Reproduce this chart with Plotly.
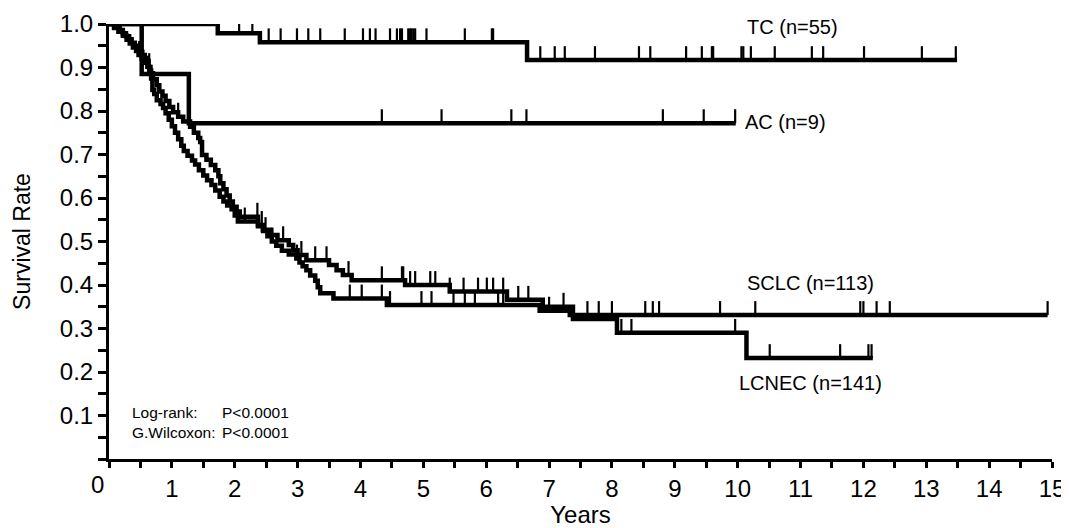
import plotly.graph_objects as go

# ---------------- data ----------------
# TC (n=55)
tc_time = [0.0, 1.73, 2.40, 6.65]
tc_surv = [1.0, 0.979, 0.958, 0.917]
tc_end = 13.49
tc_censor = [1.57, 2.07, 2.28, 2.54, 2.73, 2.99, 3.17, 3.36, 3.75, 4.04, 4.15, 4.24,
             4.47, 4.58, 4.63, 4.66, 4.76, 4.79, 4.81, 4.84, 4.87, 5.05, 5.66, 6.09,
             6.11, 6.86, 7.09, 7.25, 7.73, 8.43, 8.61, 9.18, 9.43, 9.59, 9.61, 10.06,
             10.09, 10.21, 10.59, 11.18, 11.36, 12.01, 12.93, 13.47]

# AC (n=9)
ac_time = [0.0, 0.52, 1.27]
ac_surv = [1.0, 0.885, 0.772]
ac_end = 9.97
ac_censor = [4.34, 5.29, 6.40, 6.64, 8.81, 9.46, 9.96]

# SCLC (n=113)
sclc_time = [0.0, 0.08, 0.15, 0.22, 0.28, 0.33, 0.38, 0.43, 0.47, 0.52, 0.57, 0.61,
             0.64, 0.67, 0.69, 0.72, 0.76, 0.82, 0.86, 0.90, 0.95, 1.00, 1.05, 1.10,
             1.15, 1.19, 1.25, 1.32, 1.37, 1.43, 1.50, 1.56, 1.63, 1.69, 1.76, 1.82,
             1.88, 1.95, 2.00, 2.05, 2.37, 2.45, 2.52, 2.59, 2.66, 2.75, 2.86, 2.98,
             3.03, 3.08, 3.14, 3.20, 3.28, 3.32, 3.36, 3.57, 4.42, 6.85, 7.33]
sclc_surv = [1.0, 0.991, 0.982, 0.973, 0.964, 0.955, 0.946, 0.938, 0.929, 0.920, 0.911, 0.902,
             0.893, 0.875, 0.848, 0.839, 0.825, 0.816, 0.807, 0.795, 0.780, 0.765, 0.750, 0.735,
             0.720, 0.708, 0.697, 0.686, 0.677, 0.664, 0.652, 0.641, 0.630, 0.617, 0.603, 0.592,
             0.583, 0.574, 0.560, 0.546, 0.535, 0.524, 0.512, 0.500, 0.490, 0.479, 0.470, 0.461,
             0.452, 0.443, 0.434, 0.422, 0.410, 0.395, 0.381, 0.369, 0.354, 0.341, 0.331]
sclc_end = 14.93
sclc_censor = [0.48, 2.16, 2.49, 2.60, 2.99, 3.83, 4.02, 4.34, 4.47, 4.97, 5.13, 5.48,
               5.66, 5.82, 6.19, 6.27, 7.00, 7.61, 7.79, 8.00, 8.53, 8.65, 8.75, 9.72,
               10.28, 11.95, 12.00, 12.21, 12.42, 14.93]

# LCNEC (n=141)
lcnec_time = [0.0, 0.10, 0.17, 0.22, 0.27, 0.32, 0.36, 0.41, 0.45, 0.49, 0.53, 0.57,
              0.60, 0.63, 0.66, 0.70, 0.76, 0.80, 0.85, 0.90, 0.96, 1.02, 1.10, 1.18,
              1.29, 1.35, 1.42, 1.45, 1.48, 1.55, 1.62, 1.69, 1.74, 1.77, 1.82, 1.87,
              1.92, 1.97, 2.03, 2.08, 2.37, 2.45, 2.56, 2.68, 2.86, 2.93, 3.00, 3.14,
              3.50, 3.62, 3.72, 3.86, 4.71, 5.42, 6.33, 6.90, 7.38, 8.08, 10.14]
lcnec_surv = [1.0, 0.993, 0.986, 0.979, 0.972, 0.965, 0.957, 0.950, 0.943, 0.936, 0.929, 0.922,
              0.915, 0.901, 0.887, 0.873, 0.859, 0.845, 0.835, 0.823, 0.809, 0.797, 0.787, 0.776,
              0.764, 0.750, 0.738, 0.729, 0.699, 0.688, 0.676, 0.664, 0.650, 0.634, 0.620, 0.606,
              0.592, 0.580, 0.569, 0.557, 0.538, 0.527, 0.515, 0.503, 0.492, 0.480, 0.469, 0.457,
              0.446, 0.434, 0.423, 0.411, 0.400, 0.385, 0.366, 0.350, 0.322, 0.290, 0.232]
lcnec_end = 12.15
lcnec_censor = [0.64, 1.10, 2.36, 2.43, 2.77, 3.06, 3.28, 3.46, 3.81, 4.34, 4.66, 4.68,
                4.79, 4.87, 5.11, 5.19, 5.42, 5.64, 5.87, 6.01, 6.11, 6.27, 6.51, 6.67,
                7.23, 8.15, 8.31, 9.96, 10.51, 11.63, 12.08, 12.13]

group_labels = ["TC (n=55)", "AC (n=9)", "SCLC (n=113)", "LCNEC (n=141)"]
label_pos_x = [10.12, 10.08, 10.12, 9.99]
label_pos_y = [0.993, 0.775, 0.405, 0.175]

stat_names = ["Log-rank:", "G.Wilcoxon:"]
stat_values = ["P&lt;0.0001", "P&lt;0.0001"]
stat_rows_y = [0.108, 0.060]

x_ticks = list(range(1, 16))
y_ticks = [0.1, 0.2, 0.3, 0.4, 0.5, 0.6, 0.7, 0.8, 0.9, 1.0]

# ---------------- styling ----------------
FONT = "Liberation Sans, Arial, sans-serif"
TICK_H = 0.032   # censor tick height in survival units

fig = go.Figure()


def surv_at(times, survs, t):
    s = survs[0]
    for tt, ss in zip(times, survs):
        if tt <= t:
            s = ss
    return s


groups = [
    (tc_time, tc_surv, tc_end, tc_censor),
    (ac_time, ac_surv, ac_end, ac_censor),
    (sclc_time, sclc_surv, sclc_end, sclc_censor),
    (lcnec_time, lcnec_surv, lcnec_end, lcnec_censor),
]

for (times, survs, end, cens), name in zip(groups, group_labels):
    fig.add_trace(go.Scatter(
        x=list(times) + [end], y=list(survs) + [survs[-1]],
        mode="lines", line=dict(color="black", width=4.5, shape="hv"),
        cliponaxis=False, name=name, showlegend=False, hoverinfo="skip"))
    cx, cy = [], []
    for c in cens:
        s = surv_at(times, survs, c)
        cx += [c, c, None]
        cy += [s, s + TICK_H, None]
    fig.add_trace(go.Scatter(
        x=cx, y=cy, mode="lines", line=dict(color="black", width=2.2),
        cliponaxis=False, showlegend=False, hoverinfo="skip"))

annotations = []
for txt, ax, ay in zip(group_labels, label_pos_x, label_pos_y):
    annotations.append(dict(x=ax, y=ay, xref="x", yref="y", text=txt, showarrow=False,
                            xanchor="left", yanchor="middle",
                            font=dict(family=FONT, size=20, color="black")))

# x tick label "0", placed left of the origin as in the reference
annotations.append(dict(x=0, y=-0.0575, xref="x", yref="paper", text="0", showarrow=False,
                        xanchor="center", yanchor="middle", xshift=-12,
                        font=dict(family=FONT, size=24, color="black")))

# statistics text
for lab, pv, yy in zip(stat_names, stat_values, stat_rows_y):
    annotations.append(dict(x=0.33, y=yy, xref="x", yref="y", text=lab, showarrow=False,
                            xanchor="left", yanchor="middle",
                            font=dict(family=FONT, size=15.5, color="black")))
    annotations.append(dict(x=1.76, y=yy, xref="x", yref="y", text=pv, showarrow=False,
                            xanchor="left", yanchor="middle",
                            font=dict(family=FONT, size=15.5, color="black")))

# the page body adds an 8 px margin, so the figure is sized to fit the window
fig.update_layout(
    width=1061, height=520,
    margin=dict(l=101, r=17, t=16, b=69),
    paper_bgcolor="white", plot_bgcolor="white",
    showlegend=False,
    annotations=annotations,
    font=dict(family=FONT, color="black"),
)

fig.update_xaxes(
    range=[0, 15], tickmode="array", tickvals=x_ticks,
    ticks="outside", ticklen=6, tickwidth=2.5, tickcolor="black",
    showline=True, linewidth=3, linecolor="black",
    showgrid=False, zeroline=False,
    minor=dict(dtick=0.5, tick0=0, ticks="outside", ticklen=6, tickwidth=2.5,
               tickcolor="black", showgrid=False),
    tickfont=dict(family=FONT, size=24, color="black"),
    title=dict(text="Years", font=dict(family=FONT, size=24, color="black"), standoff=10),
    automargin=False,
)

fig.update_yaxes(
    range=[0, 1.0], tickmode="array", tickvals=y_ticks,
    ticktext=[f"{v:.1f}" for v in y_ticks],
    ticks="outside", ticklen=8, tickwidth=2.5, tickcolor="black",
    showline=True, linewidth=3, linecolor="black",
    showgrid=False, zeroline=False,
    minor=dict(dtick=0.05, tick0=0, ticks="outside", ticklen=8, tickwidth=2.5,
               tickcolor="black", showgrid=False),
    tickfont=dict(family=FONT, size=24, color="black"),
    title=dict(text="Survival Rate", font=dict(family=FONT, size=23, color="black"), standoff=23),
    automargin=False,
)

fig.write_html("out.html")
